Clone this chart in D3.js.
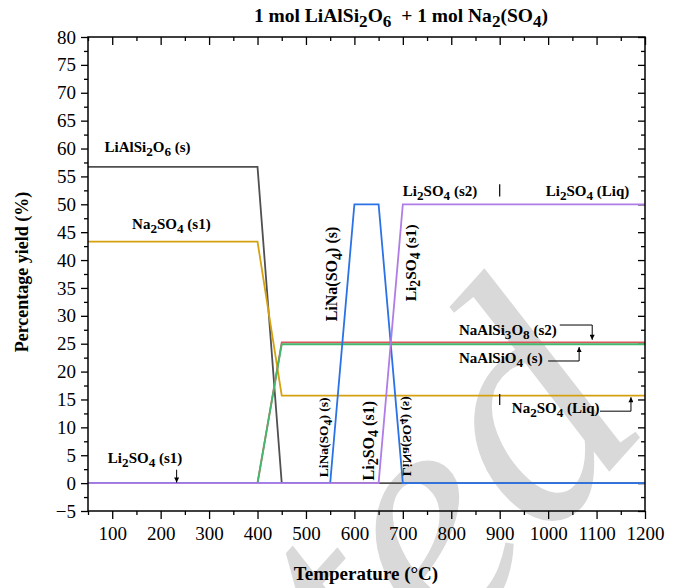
<html>
<head>
<meta charset="UTF-8">
<title>Percentage yield</title>
<style>
  body { margin: 0; background: #fff; }
  svg text { font-family: "Liberation Serif", "Times New Roman", serif; }
  .bold { font-weight: bold; }
</style>
<script src="https://d3js.org/d3.v7.min.js"></script>
</head>
<body>
<script>
// temperatures (°C) and yields (%)
const temps_LiAlSi2O6 = [50, 400, 450, 1200];
const yield_LiAlSi2O6 = [56.7, 56.7, 0, 0];
const temps_Na2SO4 = [50, 400, 450, 1200];
const yield_Na2SO4 = [43.3, 43.3, 15.7, 15.7];
const temps_NaAlSi3O8 = [50, 400, 450, 1200];
const yield_NaAlSi3O8 = [0, 0, 25.25, 25.25];
const temps_NaAlSiO4 = [50, 400, 450, 1200];
const yield_NaAlSiO4 = [0, 0, 24.9, 24.9];
const temps_LiNaSO4 = [50, 550, 600, 650, 700, 1200];
const yield_LiNaSO4 = [0, 0, 50, 50, 0, 0];
const temps_Li2SO4 = [50, 650, 700, 1200];
const yield_Li2SO4 = [0, 0, 50, 50];

const seriesNames = ["LiAlSi2O6", "Na2SO4", "NaAlSi3O8", "NaAlSiO4", "LiNa(SO4)", "Li2SO4"];
const seriesColors = ["#505050", "#d6a10f", "#d9575c", "#43b86e", "#2a72e6", "#b07ce6"];
const seriesTemps = [temps_LiAlSi2O6, temps_Na2SO4, temps_NaAlSi3O8, temps_NaAlSiO4, temps_LiNaSO4, temps_Li2SO4];
const seriesYields = [yield_LiAlSi2O6, yield_Na2SO4, yield_NaAlSi3O8, yield_NaAlSiO4, yield_LiNaSO4, yield_Li2SO4];

const xTicks = [100, 200, 300, 400, 500, 600, 700, 800, 900, 1000, 1100, 1200];
const yTicks = [-5, 0, 5, 10, 15, 20, 25, 30, 35, 40, 45, 50, 55, 60, 65, 70, 75, 80];

const W = 678, H = 588;
const margin = { left: 88, right: 33, top: 37, bottom: 77 };
const width = W - margin.left - margin.right,
      height = H - margin.top - margin.bottom;

const x = d3.scaleLinear().domain([50, 1200]).range([0, width]);
const y = d3.scaleLinear().domain([-5, 80]).range([height, 0]);

const svg = d3.select("body").append("svg")
  .attr("width", W).attr("height", H);

// watermark
svg.append("text")
  .attr("transform", "translate(654,422) rotate(-48)")
  .attr("text-anchor", "end")
  .style("font-size", "330px")
  .style("font-style", "italic")
  .attr("fill", "#d9d9d9")
  .text("Accepted");

const g = svg.append("g")
  .attr("transform", "translate(" + margin.left + "," + margin.top + ")");

// rich text: Li_{2}SO_{4} -> lowered, slightly smaller subscripts
function rich(sel, str) {
  const parts = str.split(/(_\{[^}]*\})/).filter(function (p) { return p; });
  let shift = 0;
  parts.forEach(function (p) {
    const sub = p.startsWith("_{");
    const ts = sel.append("tspan").text(sub ? p.slice(2, -1) : p);
    if (sub) {
      ts.style("font-size", "88%").attr("dy", "0.3em");
      shift = 1;
    } else if (shift) {
      ts.attr("dy", "-0.264em");
      shift = 0;
    }
  });
  return sel;
}

// axes
const minorX = d3.range(50, 1201, 50).filter(function (d) { return d % 100 !== 0; });
const minorY = d3.range(-2.5, 80, 5);

function plain(a) {
  a.select(".domain").remove();
  a.attr("font-family", null).attr("font-size", null);
  a.selectAll(".tick line").attr("stroke-width", 1.3);
}

g.append("g").attr("transform", "translate(0," + height + ")")
  .call(d3.axisBottom(x).tickValues(xTicks).tickSize(8).tickPadding(8).tickFormat(d3.format("d")))
  .call(plain);
g.append("g").attr("transform", "translate(0," + height + ")")
  .call(d3.axisBottom(x).tickValues(minorX).tickSize(4))
  .call(plain).selectAll("text").remove();
g.append("g")
  .call(d3.axisTop(x).tickValues(xTicks).tickSize(-8))
  .call(plain).selectAll("text").remove();
g.append("g")
  .call(d3.axisTop(x).tickValues(minorX).tickSize(-4))
  .call(plain).selectAll("text").remove();

g.append("g")
  .call(d3.axisLeft(y).tickValues(yTicks).tickSize(7).tickPadding(5).tickFormat(d3.format("d")))
  .call(plain);
g.append("g")
  .call(d3.axisLeft(y).tickValues(minorY).tickSize(4))
  .call(plain).selectAll("text").remove();
g.append("g").attr("transform", "translate(" + width + ",0)")
  .call(d3.axisRight(y).tickValues(yTicks).tickSize(-7))
  .call(plain).selectAll("text").remove();
g.append("g").attr("transform", "translate(" + width + ",0)")
  .call(d3.axisRight(y).tickValues(minorY).tickSize(-4))
  .call(plain).selectAll("text").remove();

g.selectAll(".tick text").style("font-size", "19px").attr("fill", "#000");

// lines
const line = d3.line()
  .x(function (d) { return x(d[0]); })
  .y(function (d) { return y(d[1]); });

seriesNames.forEach(function (name, i) {
  const pts = seriesTemps[i].map(function (t, j) { return [t, seriesYields[i][j]]; });
  g.append("path")
    .datum(pts)
    .attr("fill", "none")
    .attr("stroke", seriesColors[i])
    .attr("stroke-width", 1.8)
    .attr("d", line);
});

// frame
g.append("rect")
  .attr("width", width).attr("height", height)
  .attr("fill", "none").attr("stroke", "#000").attr("stroke-width", 1.5);

// titles
rich(svg.append("text").attr("class", "bold")
  .attr("x", 401).attr("y", 22).attr("text-anchor", "middle")
  .style("font-size", "19.5px"), "1 mol LiAlSi_{2}O_{6}\u00a0 + 1 mol Na_{2}(SO_{4})");

svg.append("text").attr("class", "bold")
  .attr("x", 366).attr("y", 580).attr("text-anchor", "middle")
  .style("font-size", "19px").text("Temperature (\u00b0C)");

svg.append("text").attr("class", "bold")
  .attr("transform", "translate(28,272) rotate(-90)").attr("text-anchor", "middle")
  .style("font-size", "18px").text("Percentage yield (%)");

// annotations
function label(str, px, py, size, rot, anchor, mirror) {
  const t = g.append("text").attr("class", "bold")
    .attr("transform", "translate(" + px + "," + py + ") rotate(" + (rot || 0) + ")" +
      (mirror ? " scale(1,-1)" : ""))
    .attr("text-anchor", anchor || "start")
    .style("font-size", size + "px");
  return rich(t, str);
}
const X = function (v) { return x(v); }, Y = function (v) { return y(v); };

label("LiAlSi_{2}O_{6} (s)", X(84), Y(59.4), 15);
label("Na_{2}SO_{4} (s1)", X(141), Y(45.6), 15);
label("Li_{2}SO_{4} (s2)", X(700), Y(51.4), 15);
label("Li_{2}SO_{4} (Liq)", X(995), Y(51.4), 15);
label("NaAlSi_{3}O_{8} (s2)", X(816), Y(26.6), 15);
label("NaAlSiO_{4} (s)", X(816), Y(21.6), 15);
label("Na_{2}SO_{4} (Liq)", X(925), Y(12.6), 15);
label("Li_{2}SO_{4} (s1)", X(91), Y(3.6), 15);
label("LiNa(SO_{4}) (s)", X(565), Y(37.5), 16, -90, "middle");
label("Li_{2}SO_{4} (s1)", X(727), Y(39.5), 15.5, -90, "middle");
label("LiNa(SO_{4}) (s)", X(546), Y(8.2), 13.5, -90, "middle");
label("Li_{2}SO_{4} (s1)", X(640), Y(7.6), 16, -90, "middle");
label("LiNa(SO_{4}) (s)", X(701), Y(8.4), 13.5, -90, "middle", true);

// small vertical markers at 900 °C
[[51.4, 53.6], [14.0, 16.0]].forEach(function (r) {
  g.append("line").attr("x1", X(900)).attr("x2", X(900))
    .attr("y1", Y(r[0])).attr("y2", Y(r[1]))
    .attr("stroke", "#000").attr("stroke-width", 1.2);
});

// leader arrows
svg.append("defs").append("marker")
  .attr("id", "ah").attr("viewBox", "0 0 10 10")
  .attr("refX", 10).attr("refY", 5)
  .attr("markerWidth", 9).attr("markerHeight", 5)
  .attr("markerUnits", "userSpaceOnUse")
  .attr("orient", "auto")
  .append("path").attr("d", "M0,0 L10,5 L0,10 Z").attr("fill", "#000");

function leader(pts) {
  g.append("path")
    .attr("d", d3.line()(pts))
    .attr("fill", "none").attr("stroke", "#000").attr("stroke-width", 1)
    .attr("marker-end", "url(#ah)");
}
leader([[X(1024), Y(28.35)], [X(1091), Y(28.35)], [X(1091), Y(25.7)]]);
leader([[X(1000), Y(21.9)], [X(1064), Y(21.9)], [X(1064), Y(24.4)]]);
leader([[X(1107), Y(12.9)], [X(1171), Y(12.9)], [X(1171), Y(15.4)]]);
leader([[X(233), Y(2.4)], [X(233), Y(0.1)]]);
</script>
</body>
</html>
